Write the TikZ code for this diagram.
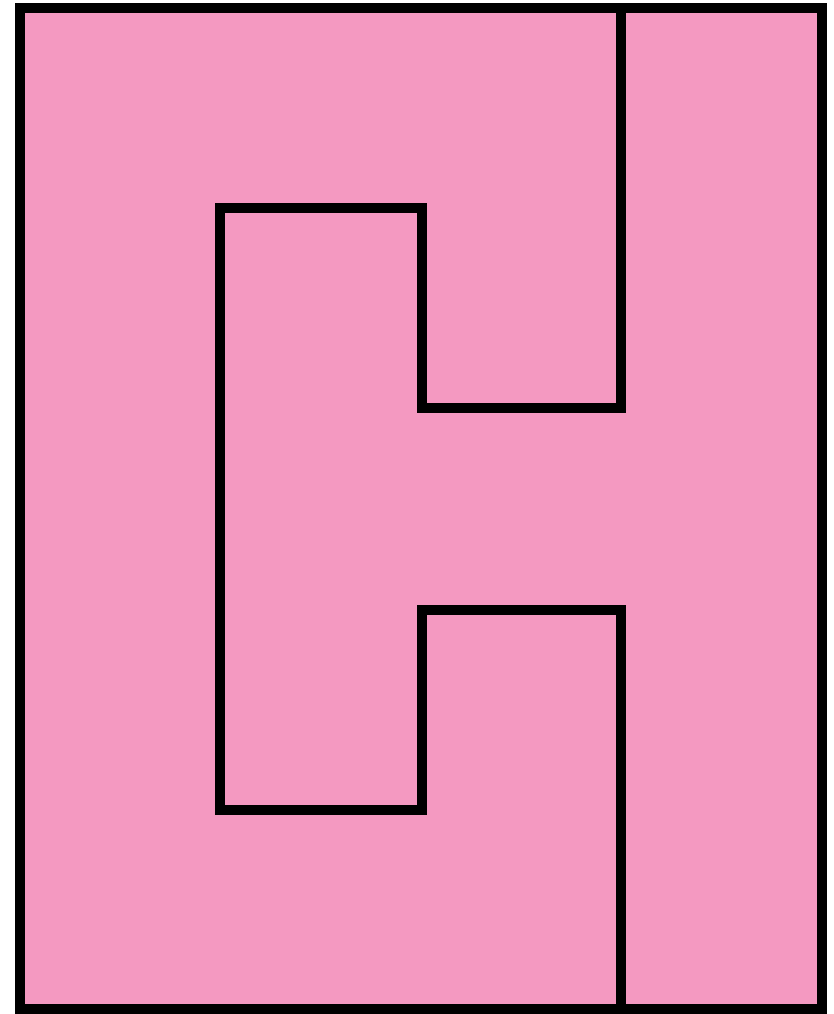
\documentclass[tikz,border=0pt]{standalone}
\definecolor{pinkfill}{RGB}{244,153,193}
\tikzset{edge/.style={draw=black,line width=9.5pt,line join=miter,line cap=rect}}
\begin{document}
\begin{tikzpicture}[x=1pt,y=-1pt]
\useasboundingbox (0,0) rectangle (833,1014);
\fill[white] (0,0) rectangle (833,1014);
\filldraw[fill=pinkfill,edge] (20,8) rectangle (822,1009);
\draw[edge,line cap=butt] (621,8) -- (621,408) -- (422,408) -- (422,208) -- (220,208) -- (220,810) -- (422,810) -- (422,610) -- (621,610) -- (621,1009);
\end{tikzpicture}
\end{document}
